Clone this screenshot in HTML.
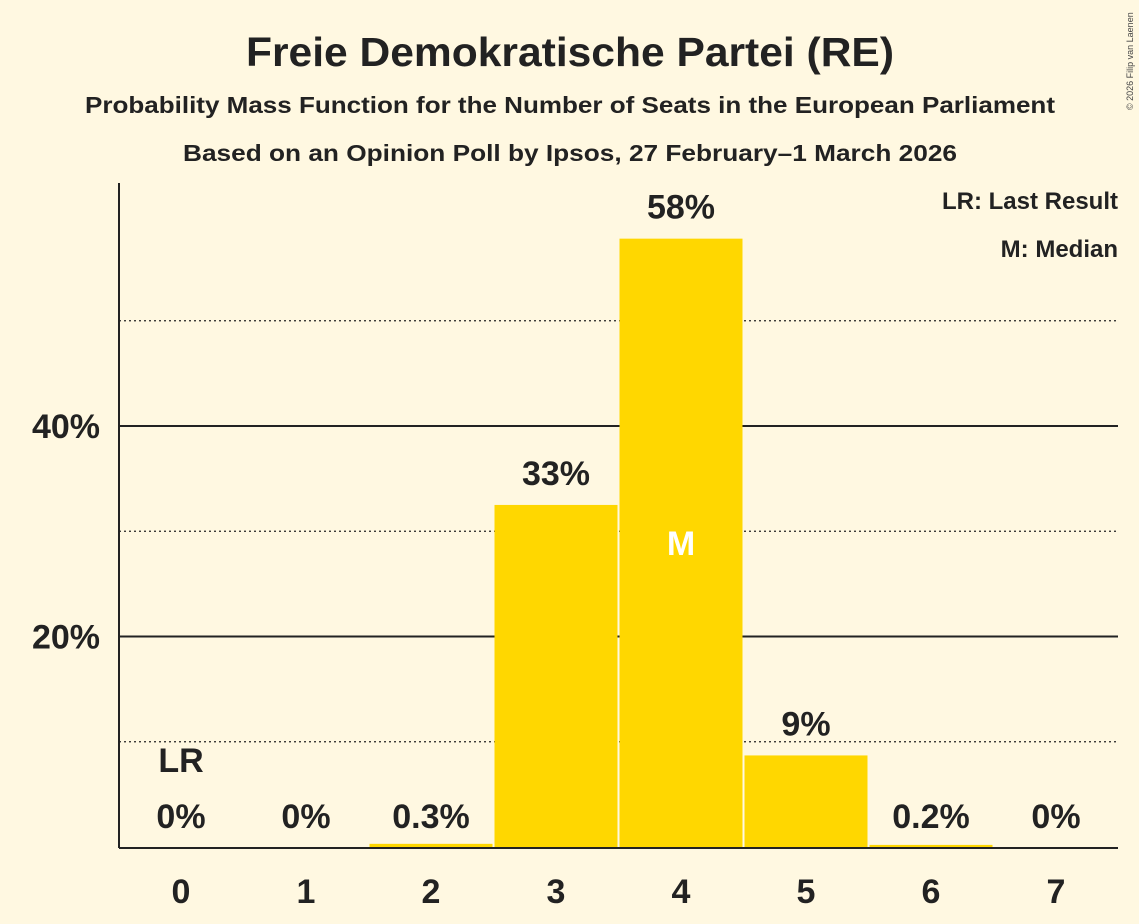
<!DOCTYPE html>
<html><head><meta charset="utf-8"><style>
body{margin:0;background:#fff8e1;}
svg{display:block;font-family:"Liberation Sans",sans-serif;}
</style></head><body>
<svg width="1139" height="924">
<rect width="1139" height="924" fill="#fff8e1"/>
<text x="570" y="66" text-anchor="middle" font-size="41" font-weight="bold" fill="#222" textLength="648" lengthAdjust="spacingAndGlyphs">Freie Demokratische Partei (RE)</text>
<text x="570" y="113" text-anchor="middle" font-size="23" font-weight="bold" fill="#222" textLength="970" lengthAdjust="spacingAndGlyphs">Probability Mass Function for the Number of Seats in the European Parliament</text>
<text x="570" y="161" text-anchor="middle" font-size="23" font-weight="bold" fill="#222" textLength="774" lengthAdjust="spacingAndGlyphs">Based on an Opinion Poll by Ipsos, 27 February–1 March 2026</text>
<text x="1133" y="110" font-size="9" fill="#444" transform="rotate(-90 1133 110)">© 2026 Filip van Laenen</text>
<g id="grid"></g>
<g id="bars"></g>
<line x1="119" y1="183" x2="119" y2="848" stroke="#222" stroke-width="2"/>
<line x1="119" y1="848" x2="1118" y2="848" stroke="#222" stroke-width="2"/>
<text x="1118" y="209" text-anchor="end" font-size="24" font-weight="bold" fill="#222">LR: Last Result</text>
<text x="1118" y="257" text-anchor="end" font-size="24" font-weight="bold" fill="#222">M: Median</text>
</svg>
<script>
const seats=[0,1,2,3,4,5,6,7];
const probs=[0,0,0.3,32.5,57.8,8.7,0.2,0];
const labels=["0%","0%","0.3%","33%","58%","9%","0.2%","0%"];
const yTicks=[20,40];
const yDotted=[10,30,50];
const lastResult=0, median=4;
const NS="http://www.w3.org/2000/svg";
const y=v=>847-v*10.525;
const x=s=>181+s*125;
function mk(t,a,p){const e=document.createElementNS(NS,t);for(const k in a)e.setAttribute(k,a[k]);p.appendChild(e);return e;}
const g=document.getElementById('grid'),b=document.getElementById('bars');
yDotted.forEach(v=>{const l=mk('line',{x1:119,x2:1118,y1:y(v),y2:y(v),stroke:'#222','stroke-width':1.3,'stroke-dasharray':'2,3'},g);

});
yTicks.forEach(v=>{const l=mk('line',{x1:119,x2:1118,y1:y(v),y2:y(v),stroke:'#222','stroke-width':2},g);


const t=mk('text',{x:100,y:y(v)+12,'text-anchor':'end','font-size':34,'font-weight':'bold',fill:'#222'},g);t.textContent=v+'%';

});
seats.forEach((s,i)=>{const v=probs[i];
const r=mk('rect',{x:x(s)-61.5,y:y(v),width:123,height:847-y(v),fill:'#ffd700'},b);


const ly=v>5?y(v)-20:828;
const t=mk('text',{x:x(s),y:ly,'text-anchor':'middle','font-size':34,'font-weight':'bold',fill:'#222'},b);t.textContent=labels[i];


const xt=mk('text',{x:x(s),y:903,'text-anchor':'middle','font-size':34,'font-weight':'bold',fill:'#222'},b);xt.textContent=s;


if(s===median){const m=mk('text',{x:x(s),y:y(v/2)+12,'text-anchor':'middle','font-size':34,'font-weight':'bold',fill:'#fff'},b);m.textContent='M';

}
if(s===lastResult){const m=mk('text',{x:x(s),y:772,'text-anchor':'middle','font-size':34,'font-weight':'bold',fill:'#222'},b);m.textContent='LR';

}
});
</script>
</body></html>
